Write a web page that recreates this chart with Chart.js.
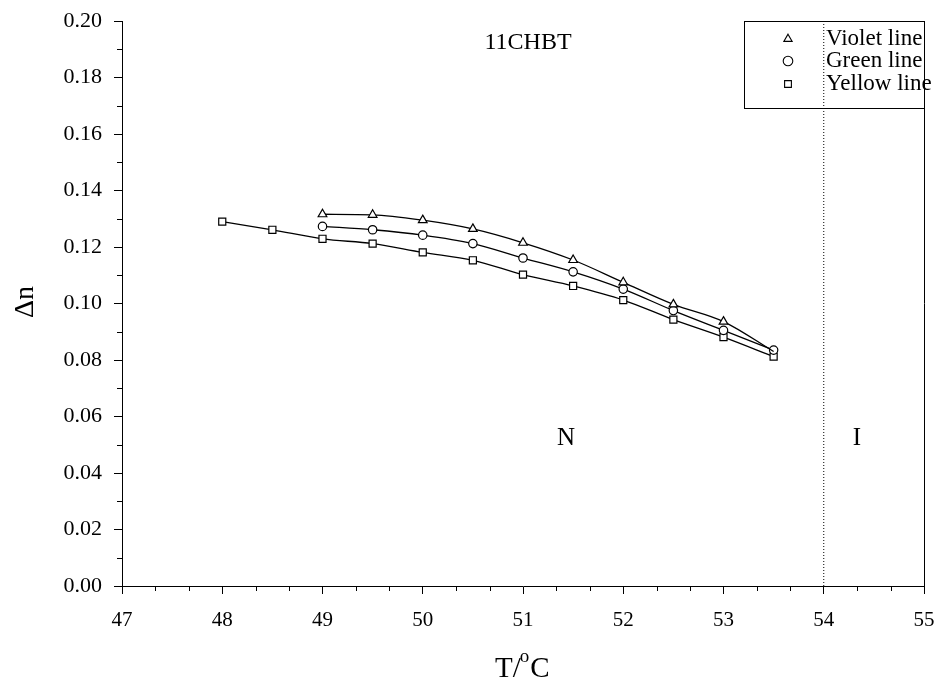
<!DOCTYPE html>
<html>
<head>
<meta charset="utf-8">
<script src="https://cdn.jsdelivr.net/npm/chart.js@4.4.1/dist/chart.umd.min.js"></script>
<style>
  html, body { margin: 0; padding: 0; background: #fff; }
  #cntGrafica { width: 938px; height: 683px; }
</style>
</head>
<body>
<div id="cntGrafica"><canvas id="grafica"></canvas></div>
<script>
// datos (11CHBT)
const tempVioleta = [49, 49.5, 50, 50.5, 51, 51.5, 52, 52.5, 53, 53.5];
const dnVioleta   = [0.1316, 0.1314, 0.1295, 0.1264, 0.1215, 0.1154, 0.1075, 0.0997, 0.0936, 0.0830];
const tempVerde   = [49, 49.5, 50, 50.5, 51, 51.5, 52, 52.5, 53, 53.5];
const dnVerde     = [0.1273, 0.1261, 0.1242, 0.1212, 0.1161, 0.1112, 0.1051, 0.0975, 0.0905, 0.0835];
const tempAmarillo = [48, 48.5, 49, 49.5, 50, 50.5, 51, 51.5, 52, 52.5, 53, 53.5];
const dnAmarillo   = [0.1290, 0.1261, 0.1229, 0.1212, 0.1181, 0.1153, 0.1102, 0.1062, 0.1012, 0.0943, 0.0881, 0.0812];
const tempClaro = 54;   // transicion N-I
const xMin = 47, xMax = 55;
const yMin = 0, yMax = 0.20;
const etiquetas = ['Violet line', 'Green line', 'Yellow line'];
const estilos = ['triangle', 'circle', 'rect'];

const fuente = "'Liberation Serif', 'Times New Roman', serif";

function armarPuntos(xs, ys) {
  var arr = [];
  for (var i = 0; i < xs.length; i++) arr.push({ x: xs[i], y: ys[i] });
  return arr;
}

// el ultimo punto de la violeta queda tapado por el circulo
const radioVioleta = tempVioleta.map(function (t, i) { return i === tempVioleta.length - 1 ? 0 : 5; });

const serie = function (label, estilo, data, radio) {
  return {
    label: label,
    data: data,
    showLine: true,
    cubicInterpolationMode: 'monotone',
    borderColor: '#000',
    borderWidth: 1.3,
    pointStyle: estilo,
    pointRadius: radio,
    pointBorderWidth: 1.2,
    pointBackgroundColor: '#fff',
    pointBorderColor: '#000'
  };
};

const extras = {
  id: 'extras',
  afterDraw: function (chart) {
    const ctx = chart.ctx;
    const a = chart.chartArea;
    const sx = chart.scales.x, sy = chart.scales.y;
    ctx.save();
    ctx.strokeStyle = '#000';
    ctx.fillStyle = '#000';
    ctx.lineWidth = 1;

    // borde derecho
    ctx.beginPath();
    ctx.moveTo(a.right + 0.5, a.top);
    ctx.lineTo(a.right + 0.5, a.bottom);
    ctx.stroke();

    // ticks menores
    ctx.beginPath();
    for (var v = xMin; v < xMax; v++) {
      [1 / 3, 2 / 3].forEach(function (f) {
        const px = Math.round(sx.getPixelForValue(v + f)) + 0.5;
        ctx.moveTo(px, a.bottom);
        ctx.lineTo(px, a.bottom + 5);
      });
    }
    for (var k = 1; k < 20; k += 2) {
      const py = Math.round(sy.getPixelForValue(k / 100)) + 0.5;
      ctx.moveTo(a.left, py);
      ctx.lineTo(a.left - 5, py);
    }
    ctx.stroke();

    // textos
    ctx.textBaseline = 'middle';
    ctx.textAlign = 'center';
    ctx.font = '24px ' + fuente;
    ctx.fillText('11CHBT', 528, 43);
    ctx.font = '25px ' + fuente;
    ctx.fillText('N', 566, 438);
    ctx.fillText('I', 857, 438);

    // titulos de ejes
    ctx.font = '28px ' + fuente;
    ctx.save();
    ctx.translate(26, 302);
    ctx.rotate(-Math.PI / 2);
    ctx.fillText('\u0394n', 0, 0);
    ctx.restore();

    ctx.textAlign = 'left';
    ctx.textBaseline = 'alphabetic';
    var x0 = 495;
    ctx.font = '29px ' + fuente;
    ctx.fillText('T/', x0, 677);
    var w1 = ctx.measureText('T/').width;
    ctx.font = '19px ' + fuente;
    ctx.fillText('o', x0 + w1 - 1, 662);
    var w2 = ctx.measureText('o').width;
    ctx.font = '29px ' + fuente;
    ctx.fillText('C', x0 + w1 + w2, 677);

    // leyenda
    ctx.lineWidth = 1;
    ctx.strokeRect(744.5, a.top + 0.5, a.right - 744, 87);
    ctx.font = '23px ' + fuente;
    ctx.textBaseline = 'middle';
    var filas = [39, 61, 84];
    etiquetas.forEach(function (txt, i) {
      ctx.fillStyle = '#fff';
      ctx.strokeStyle = '#000';
      ctx.lineWidth = 1.1;
      Chart.helpers.drawPoint(ctx, { pointStyle: estilos[i], radius: 4.8, rotation: 0, borderWidth: 1.1 }, 788, filas[i]);
      ctx.fillStyle = '#000';
      ctx.fillText(txt, 826, filas[i]);
    });
    ctx.restore();
  }
};

var ctx = document.getElementById('grafica').getContext('2d');
window.grafica_ = new Chart(ctx, {
  type: 'scatter',
  data: {
    datasets: [
      serie(etiquetas[0], 'triangle', armarPuntos(tempVioleta, dnVioleta), radioVioleta),
      serie(etiquetas[1], 'circle', armarPuntos(tempVerde, dnVerde), 4.2),
      serie(etiquetas[2], 'rect', armarPuntos(tempAmarillo, dnAmarillo), 5),
      {
        label: 'T_NI',
        data: [{ x: tempClaro, y: yMin }, { x: tempClaro, y: yMax }],
        showLine: true,
        borderColor: '#000',
        borderWidth: 1,
        borderDash: [1, 2],
        pointRadius: 0
      }
    ]
  },
  options: {
    responsive: true,
    maintainAspectRatio: false,
    animation: false,
    layout: { padding: { left: 0, top: 21, right: 14, bottom: 0 } },
    plugins: { legend: { display: false }, tooltip: { enabled: false } },
    scales: {
      x: {
        type: 'linear',
        min: xMin, max: xMax,
        afterFit: function (s) { s.height = 97; s.paddingLeft = 0; s.paddingRight = 0; },
        grid: { display: true, drawOnChartArea: false, drawTicks: true, tickLength: 8, color: '#000' },
        border: { display: true, color: '#000', width: 1 },
        ticks: { stepSize: 1, color: '#000', padding: 14, font: { family: fuente, size: 21 } }
      },
      y: {
        min: yMin, max: yMax,
        afterFit: function (s) { s.width = 122; s.paddingTop = 0; s.paddingBottom = 0; },
        grid: { display: true, drawOnChartArea: false, drawTicks: true, tickLength: 8, color: '#000' },
        border: { display: true, color: '#000', width: 1 },
        ticks: {
          stepSize: 0.02, color: '#000', padding: 12, font: { family: fuente, size: 22 },
          callback: function (v) { return v.toFixed(2); }
        }
      }
    }
  },
  plugins: [extras]
});
</script>
</body>
</html>
